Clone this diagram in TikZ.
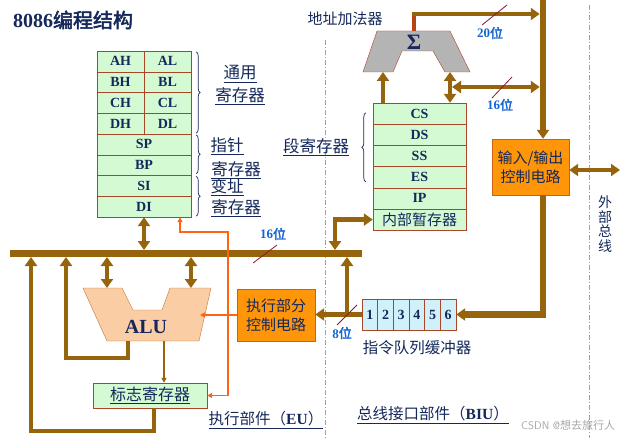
\documentclass[tikz,border=0pt]{standalone}
\usepackage{fontspec}
\setmainfont{Liberation Serif}
\newfontfamily\cjk[BoldFont={Noto Sans CJK SC}, BoldFeatures={FakeBold=2.5}]{Noto Sans CJK SC}
\usepackage{tikz}
\usetikzlibrary{arrows.meta, decorations.pathreplacing}

\definecolor{busc}{RGB}{150,100,12}
\definecolor{rbusc}{RGB}{180,70,20}
\definecolor{regfill}{RGB}{212,250,212}
\definecolor{regline}{RGB}{170,70,40}
\definecolor{qfill}{RGB}{208,240,250}
\definecolor{ctrlfill}{RGB}{255,150,10}
\definecolor{ctrlline}{RGB}{200,100,20}
\definecolor{alufill}{RGB}{250,205,165}
\definecolor{aluline}{RGB}{190,120,60}
\definecolor{addfill}{RGB}{180,180,180}
\definecolor{textnavy}{RGB}{20,40,90}
\definecolor{wblue}{RGB}{20,100,210}
\definecolor{ctlc}{RGB}{255,100,20}
\definecolor{slashc}{RGB}{140,20,50}
\definecolor{divc}{RGB}{175,165,115}

\begin{document}
\begin{tikzpicture}[x=1pt, y=-1pt,
    >={Triangle[width=12pt,length=9pt]},
    sm/.tip={Triangle[width=5pt,length=5pt]},
    bus/.style={draw=busc, line width=4.5},
    vbus/.style={draw=busc, line width=6.5},
    mbus/.style={draw=busc, line width=7},
    ctl/.style={draw=ctlc, line width=1.2, -sm},
    ctlboth/.style={draw=ctlc, line width=1.2, sm-sm},
    reg/.style={draw=regline, fill=regfill, minimum width=47, minimum height=20.75,
        inner sep=0, text=textnavy, font=\bfseries\fontsize{14}{14}\selectfont},
    wreg/.style={reg, minimum width=94},
    sreg/.style={reg, minimum width=93, minimum height=21.2},
    qcell/.style={reg, fill=qfill, minimum width=15.67, minimum height=31},
    ctrl/.style={draw=ctrlline, fill=ctrlfill, align=center, text=textnavy,
        font=\cjk\fontsize{15}{19}\selectfont},
    zh/.style={text=textnavy, inner sep=1, font=\cjk\fontsize{15.5}{18}\selectfont},
    zhl/.style={zh, font=\cjk\fontsize{16.5}{18}\selectfont},
    wei/.style={text=wblue, inner sep=0, font=\bfseries\fontsize{13}{13}\selectfont},
    slash/.style={draw=slashc, line width=0.8},
    brc/.style={decorate, decoration={brace, amplitude=4pt}, draw=textnavy, line width=0.7},
    div/.style={draw=divc, line width=0.9, dash pattern=on 5pt off 2pt on 1pt off 2pt}]

    \useasboundingbox (0,0) rectangle (623,438);

    % 标题
    \node[text=textnavy, font=\bfseries\fontsize{20}{20}\selectfont] (title) at (73,20) {8086{\cjk 编程结构}};

    % 分界虚线
    \draw[div] (325,40) -- (325,438);
    \draw[div] (589,5) -- (589,438);

    % 通用寄存器
    \foreach \h/\l [count=\i] in {AH/AL,BH/BL,CH/CL,DH/DL}{
        \node[reg] (\h) at (120.5, 40.625+20.75*\i) {\h};
        \node[reg] (\l) at (167.5, 40.625+20.75*\i) {\l};
    }
    \foreach \r [count=\i from 5] in {SP,BP,SI,DI}
        \node[wreg] (\r) at (144, 40.625+20.75*\i) {\r};

    \draw[brc] ([xshift=5,yshift=-1]AL.north east) -- ([xshift=5,yshift=1]DL.south east);
    \draw[brc] ([xshift=5,yshift=-1]SP.north east) -- ([xshift=5,yshift=2]BP.south east);
    \draw[brc] ([xshift=5,yshift=-1]SI.north east) -- ([xshift=5,yshift=1]DI.south east);

    \node[zhl] (gpra) at (240,74) {\underline{通用}};
    \node[zhl] (gprb) at (240,96) {\underline{寄存器}};
    \node[zhl] (ptra) at (227,146) {\underline{指针}};
    \node[zhl] (ptrb) at (236,170) {\underline{寄存器}};
    \node[zhl] (idxa) at (227,187) {\underline{变址}};
    \node[zhl] (idxb) at (236,208) {\underline{寄存器}};

    % 段寄存器
    \foreach \s [count=\i] in {CS,DS,SS,ES,IP}
        \node[sreg] (\s) at (419.5, 92.4+21.2*\i) {\s};
    \node[sreg, font=\cjk\fontsize{15}{15}\selectfont] (tmp) at (419.5, 92.4+21.2*6) {内部暂存器};
    \draw[brc] ([xshift=-7,yshift=6]ES.south west) -- ([xshift=-7,yshift=-10]CS.north west);
    \node[zhl] (seglab) at (316,147) {\underline{段寄存器}};

    % 地址加法器
    \draw[draw=regline, fill=addfill] (377,31) -- (450,31) -- (470,72) -- (445,72) -- (433,51)
        -- (402,51) -- (393,72) -- (363,72) -- cycle;
    \node[text=textnavy, font=\bfseries\fontsize{22}{22}\selectfont] (sigma) at (414,42) {Σ};
    \node[zh, font=\cjk\fontsize{15}{15}\selectfont] (addlab) at (345,19) {地址加法器};
    \coordinate (addout) at (414,31);
    \coordinate (addturn) at (414,14);
    \coordinate (addin1) at (383,72);
    \coordinate (addin2) at (450,72);

    % 输入/输出控制电路
    \node[ctrl, minimum width=77, minimum height=56] (io) at (530.5,167) {输入/输出\\控制电路};
    \coordinate (bustop) at (543,0);
    \coordinate (ext) at (620,170);
    \node[zh, align=center, font=\cjk\fontsize{14}{14.5}\selectfont] (extlab) at (605,224) {外\\部\\总\\线};

    % 地址总线
    \draw[draw=rbusc, line width=4.5] (addout) -- ([yshift=-2]addturn);
    \draw[bus,->] ([xshift=-2.25]addturn) -- ([xshift=-3.25]addturn -| bustop);
    \draw[vbus,->] (bustop) -- (bustop |- io.north);
    \draw[bus,<->] (ext -| io.east) -- (ext);
    \draw[bus,->] (CS.north -| addin1) -- (addin1);
    \draw[bus,<->] (CS.north -| addin2) -- (addin2);
    \coordinate (seg16) at (452,87);
    \draw[bus,<->] (seg16) -- ([xshift=-3.25]seg16 -| bustop);

    \draw[slash] (507,5) -- (482,25);
    \node[wei] (w20) at (490,33) {20{\cjk 位}};
    \draw[slash] (512,77) -- (492,98);
    \node[wei] (w16a) at (500,105) {16{\cjk 位}};

    % 指令队列
    \foreach \i in {1,...,6}
        \node[qcell] (q\i) at (354.17+15.67*\i, 314.5) {\i};
    \node[zh] (qlab) at (417,348) {指令队列缓冲器};
    \draw[vbus,->] (io.south -| bustop) -- (bustop |- q6.east) -- (q6.east);

    % 内部总线
    \coordinate (busL) at (10,253.5);
    \coordinate (busR) at (362,253.5);
    \coordinate (bust) at (0,250);
    \coordinate (busb) at (0,257);
    \draw[mbus] (busL) -- (busR);
    \draw[slash] (277,245) -- (253,263);
    \node[wei] (w16b) at (273,234) {16{\cjk 位}};

    \coordinate (tmpx) at (335,250);
    \draw[bus,<->] (tmp.west) -| (tmpx);
    \draw[bus,<->] (DI.south) -- (DI.south |- bust);

    % 执行部分控制电路
    \node[ctrl, minimum width=78, minimum height=52] (euc) at (276,315) {执行部分\\控制电路};
    \draw[bus,->] (q1.west) -- (euc.east |- q1.west);
    \coordinate (qup) at (347,257);
    \draw[bus,->] (qup |- q1.west) -- (qup);
    \draw[slash] (357,305) -- (337,325);
    \node[wei] (w8) at (342,333) {8{\cjk 位}};

    % ALU
    \draw[draw=aluline, fill=alufill] (83,288) -- (122,288) -- (133,310) -- (162,310) -- (170,288)
        -- (211,288) -- (199,341) -- (107,341) -- cycle;
    \node[text=textnavy, font=\bfseries\fontsize{20}{20}\selectfont] (alu) at (146,327) {ALU};
    \coordinate (aluin1) at (107,288);
    \coordinate (aluin2) at (191,288);
    \coordinate (aluout1) at (128,341);
    \coordinate (aluout2) at (164,341);
    \coordinate (aluctl) at (200,315);
    \draw[bus,<->] (aluin1 |- busb) -- (aluin1);
    \draw[bus,<->] (aluin2 |- busb) -- (aluin2);
    \coordinate (fb1) at (66,358);
    \draw[bus,->] (aluout1) |- (fb1) -- (fb1 |- busb);

    % 标志寄存器
    \node[reg, minimum width=114, minimum height=25, font=\cjk\fontsize{16}{16}\selectfont] (flag) at (150,395.5) {\underline{标志寄存器}};
    \draw[draw=busc, line width=1.3, -sm] (aluout2) -- (aluout2 |- flag.north);
    \coordinate (fb2) at (31,431);
    \draw[bus,->] ([xshift=4]flag.south) |- (fb2) -- (fb2 |- busb);

    % 控制信号
    \draw[ctl] (euc.west) -- (aluctl);
    \coordinate (ctlup) at (228,232);
    \draw[ctlboth] (flag.east) -| (ctlup) -| ([xshift=36]DI.south);

    % 部件名称
    \node[zh] (eulab) at (266,420) {\underline{执行部件（{\rmfamily\bfseries EU}）}};
    \node[zh] (biulab) at (433,415) {\underline{总线接口部件（{\rmfamily\bfseries BIU}）}};
    \node[anchor=west, text=black!35, inner sep=0, font=\sffamily\fontsize{11}{11}\selectfont] (wm) at (521,425) {CSDN @{\cjk 想去旅行人}};

\end{tikzpicture}
\end{document}
